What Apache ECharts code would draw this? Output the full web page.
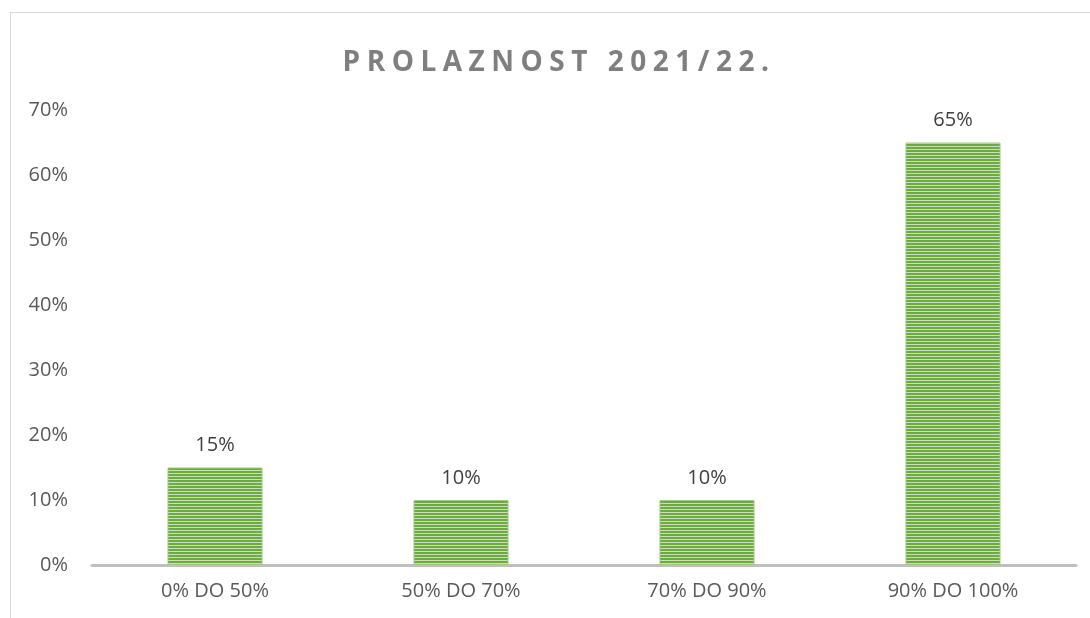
<!DOCTYPE html>
<html>
<head>
<meta charset="utf-8">
<script src="https://cdn.jsdelivr.net/npm/echarts@6/dist/echarts.min.js"></script>
<style>
    html, body { margin: 0; padding: 0; background: #fff; }
    #wrap { position: relative; width: 1090px; height: 618px; overflow: hidden; }
    #frame { position: absolute; left: 10px; top: 12px; width: 1200px; height: 700px; border: 1px solid #D9D9D9; box-sizing: border-box; }
    #title { position: absolute; left: 0; top: 41px; width: 1118px; text-align: center; font-family: "Open Sans", sans-serif; font-weight: bold; font-size: 28px; letter-spacing: 6.5px; color: #7F7F7F; }
    #chart { position: absolute; left: 0; top: 0; width: 1090px; height: 618px; }
</style>
</head>
<body>
<div id="wrap">
    <div id="frame"></div>
    <div id="chart"></div>
    <div id="title">PROLAZNOST 2021/22.</div>
</div>
<script>
let categories = ['0% DO 50%', '50% DO 70%', '70% DO 90%', '90% DO 100%'];
let values = [15, 10, 10, 65];

// 横条纹填充
function stripePattern() {
    let c = document.createElement('canvas');
    c.width = 4;
    c.height = 3;
    let ctx = c.getContext('2d');
    ctx.fillStyle = '#6DAA45';
    ctx.fillRect(0, 0, 4, 2);
    ctx.fillStyle = '#C8E2B6';
    ctx.fillRect(0, 2, 4, 1);
    return c;
}

let chart = echarts.init(document.getElementById('chart'));
chart.setOption({
    animation: false,
    grid: {
        left: 92,
        right: 14,
        top: 110,
        bottom: 53
    },
    xAxis: {
        type: 'category',
        data: categories,
        axisLine: {
            lineStyle: { color: '#BFBFBF', width: 3 }
        },
        axisTick: { show: false },
        axisLabel: {
            color: '#595959',
            fontFamily: 'Open Sans',
            fontSize: 20,
            margin: 16
        }
    },
    yAxis: {
        type: 'value',
        min: 0,
        max: 70,
        interval: 10,
        axisLine: { show: false },
        axisTick: { show: false },
        splitLine: { show: false },
        axisLabel: {
            color: '#595959',
            fontFamily: 'Open Sans',
            fontSize: 20,
            margin: 24,
            formatter: '{value}%'
        }
    },
    series: [
        {
            type: 'bar',
            data: values,
            barWidth: 95,
            itemStyle: {
                color: { image: stripePattern(), repeat: 'repeat' },
                borderColor: '#9CCB7C',
                borderWidth: 1
            },
            label: {
                show: true,
                position: 'top',
                distance: 12,
                color: '#404040',
                fontFamily: 'Open Sans',
                fontSize: 20,
                formatter: '{c}%'
            }
        }
    ]
});
</script>
</body>
</html>
